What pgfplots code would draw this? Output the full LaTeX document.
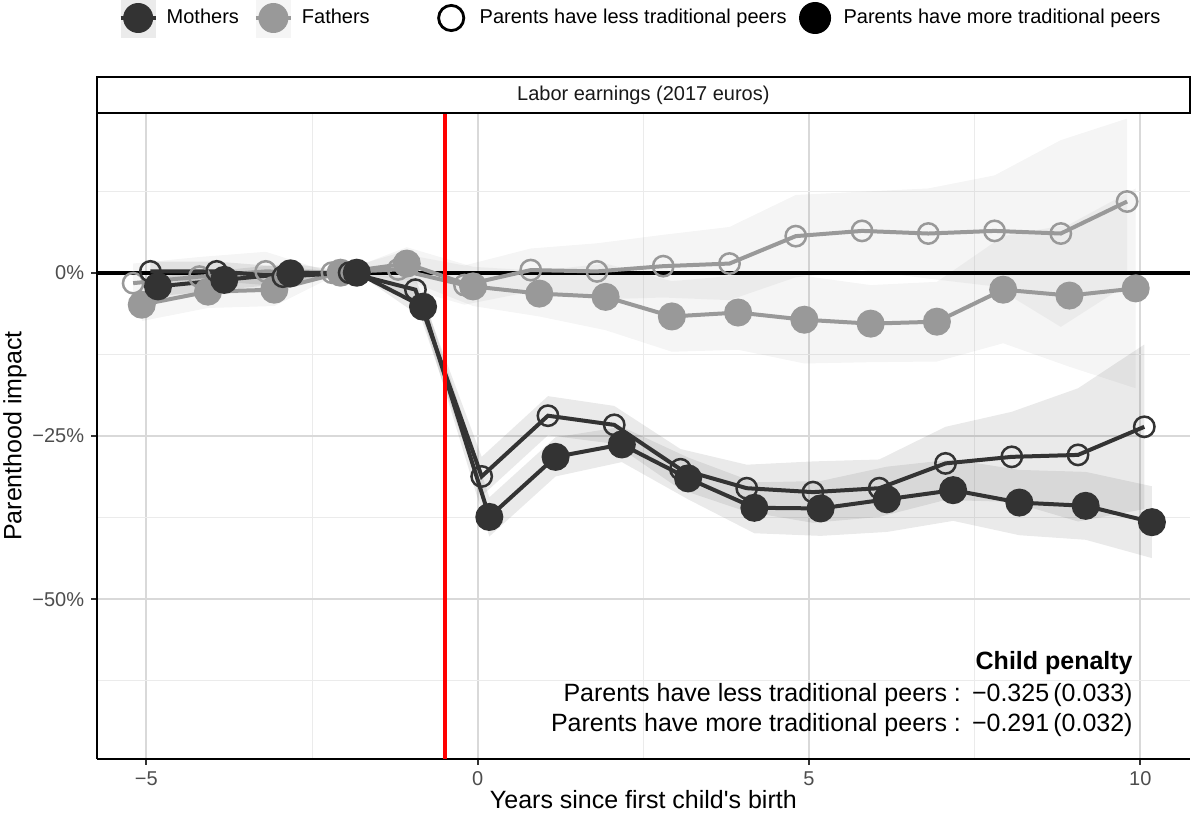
\documentclass[border=0pt]{standalone}
\usepackage{fontspec}
\setmainfont{Liberation Sans}
\usepackage{pgfplots}
\pgfplotsset{compat=1.18}
\usepgfplotslibrary{fillbetween}
\usepackage{pgfplotstable}

\definecolor{mcol}{HTML}{333333}
\definecolor{fcol}{HTML}{999999}
\definecolor{tickcol}{HTML}{4D4D4D}
\definecolor{gridmaj}{HTML}{D9D9D9}
\definecolor{gridmin}{HTML}{EBEBEB}

% Mothers, less traditional peers (open)
\pgfplotstableread{
t y hw
-5 0.2 1.5
-4 0.2 1.5
-3 -0.6 1.5
-2 0 0
-1 -2.6 1.8
0 -31.2 3.0
1 -21.9 3.0
2 -23.3 2.9
3 -30.1 3.1
4 -33.0 3.6
5 -33.6 4.7
6 -33.0 4.4
7 -29.2 5.6
8 -28.2 6.9
9 -27.9 10.2
10 -23.6 12.6
}\mo
% Mothers, more traditional peers (filled)
\pgfplotstableread{
t y hw
-5 -2.1 1.5
-4 -1.1 1.5
-3 -0.1 1.5
-2 0 0
-1 -5.2 1.8
0 -37.4 3.0
1 -28.2 3.0
2 -26.3 2.7
3 -31.5 3.2
4 -36.0 3.9
5 -36.1 4.2
6 -34.7 5.0
7 -33.3 4.7
8 -35.2 5.0
9 -35.7 5.2
10 -38.2 5.5
}\mf
% Fathers, less traditional peers (open)
\pgfplotstableread{
t y hw
-5 -1.6 3.0
-4 -0.6 3.0
-3 0.2 3.0
-2 0 0
-1 0.5 2.5
0 -1.9 3.0
1 0.4 3.3
2 0.2 4.3
3 1.0 4.8
4 1.4 5.6
5 5.6 6.3
6 6.4 6.0
7 6.0 6.9
8 6.4 8.5
9 6.0 14.3
10 10.9 12.7
}\fo
% Fathers, more traditional peers (filled)
\pgfplotstableread{
t y hw
-5 -4.9 2.5
-4 -2.9 2.5
-3 -2.6 2.5
-2 0 0
-1 1.4 2.5
0 -2.1 3.0
1 -3.2 3.5
2 -3.7 5.1
3 -6.7 5.4
4 -6.1 5.7
5 -7.2 6.7
6 -7.8 5.9
7 -7.5 6.1
8 -2.6 8.2
9 -3.5 10.9
10 -2.4 15.3
}\ff

\begin{document}
\begin{tikzpicture}
\begin{axis}[
  at={(48.35pt,30.4pt)}, anchor=south west,
  scale only axis, width=546.65pt, height=323.25pt,
  xmin=-5.75, xmax=10.75, ymin=-74.5, ymax=24.5,
  axis x line*=bottom, axis y line*=left,
  axis line style={line width=1pt, black},
  xtick={-5,0,5,10}, xticklabels={−5,0,5,10},
  ytick={-50,-25,0}, yticklabels={−50\%,−25\%,0\%},
  minor xtick={-2.5,2.5,7.5}, minor ytick={-62.5,-37.5,-12.5,12.5},
  grid=both,
  major grid style={gridmaj, line width=1pt},
  minor grid style={gridmin, line width=0.5pt},
  tick align=outside, major tick length=2.75pt, minor tick length=0pt,
  tick style={line width=1pt, black!80},
  ticklabel style={font=\fontsize{10}{12}\selectfont, text=tickcol},
  every axis x label/.style={at={(axis description cs:0.5,-0.0631)}, anchor=center, font=\fontsize{12.5}{15}\selectfont},
  every axis y label/.style={at={(axis description cs:-0.0747,0.5)}, anchor=center, rotate=90, font=\fontsize{12.5}{15}\selectfont},
  xlabel={Years since first child\textquotesingle s birth},
  ylabel={Parenthood impact},
  legend columns=4, legend cell align=left,
  legend style={at={(0.4965,1.1465)}, anchor=center, draw=none, fill=none,
    inner sep=0pt, outer sep=0pt, column sep=0pt,
    font=\fontsize{10}{12}\selectfont, nodes={inner sep=0pt}},
]
% confidence bands
\addplot[name path=foU, draw=none, forget plot] table[x expr=\thisrow{t}-0.2, y expr=\thisrow{y}+\thisrow{hw}] {\fo};
\addplot[name path=foL, draw=none, forget plot] table[x expr=\thisrow{t}-0.2, y expr=\thisrow{y}-\thisrow{hw}] {\fo};
\addplot[fill=fcol, fill opacity=0.1, draw=none, forget plot] fill between[of=foU and foL];
\addplot[name path=ffU, draw=none, forget plot] table[x expr=\thisrow{t}-0.07, y expr=\thisrow{y}+\thisrow{hw}] {\ff};
\addplot[name path=ffL, draw=none, forget plot] table[x expr=\thisrow{t}-0.07, y expr=\thisrow{y}-\thisrow{hw}] {\ff};
\addplot[fill=fcol, fill opacity=0.1, draw=none, forget plot] fill between[of=ffU and ffL];
\addplot[name path=moU, draw=none, forget plot] table[x expr=\thisrow{t}+0.06, y expr=\thisrow{y}+\thisrow{hw}] {\mo};
\addplot[name path=moL, draw=none, forget plot] table[x expr=\thisrow{t}+0.06, y expr=\thisrow{y}-\thisrow{hw}] {\mo};
\addplot[fill=mcol, fill opacity=0.1, draw=none, forget plot] fill between[of=moU and moL];
\addplot[name path=mfU, draw=none, forget plot] table[x expr=\thisrow{t}+0.175, y expr=\thisrow{y}+\thisrow{hw}] {\mf};
\addplot[name path=mfL, draw=none, forget plot] table[x expr=\thisrow{t}+0.175, y expr=\thisrow{y}-\thisrow{hw}] {\mf};
\addplot[fill=mcol, fill opacity=0.1, draw=none, forget plot] fill between[of=mfU and mfL];
% reference lines
\addplot[black, line width=1.8pt, forget plot] coordinates {(-5.75,0) (10.75,0)};
% series
\addplot[fcol, line width=2pt, mark=o, mark size=5.1pt, mark options={line width=1.25pt}, forget plot] table[x expr=\thisrow{t}-0.2, y=y] {\fo};
\addplot[fcol, line width=2pt, mark=*, mark size=6pt, mark options={draw=none, fill=fcol}, forget plot] table[x expr=\thisrow{t}-0.07, y=y] {\ff};
\addplot[mcol, line width=2pt, mark=o, mark size=5.1pt, mark options={line width=1.25pt}, forget plot] table[x expr=\thisrow{t}+0.06, y=y] {\mo};
\addplot[mcol, line width=2pt, mark=*, mark size=6pt, mark options={draw=none, fill=mcol}, forget plot] table[x expr=\thisrow{t}+0.175, y=y] {\mf};
\addplot[red, line width=2pt, forget plot] coordinates {(-0.5,-74.5) (-0.5,24.5)};
% annotation
\node[anchor=east, inner sep=0pt, font=\fontsize{12.5}{15}\selectfont\bfseries] at (axis cs:9.89,-59.8) {Child penalty};
\node[anchor=east, inner sep=0pt, font=\fontsize{12.5}{15}\selectfont] at (axis cs:9.89,-64.7) {Parents have less traditional peers\;:\;\,−0.325\,(0.033)};
\node[anchor=east, inner sep=0pt, font=\fontsize{12.5}{15}\selectfont] at (axis cs:9.89,-69.3) {Parents have more traditional peers\;:\;\,−0.291\,(0.032)};
% legend
\addlegendimage{legend image code/.code={
  \path[draw=none,fill=none] (0pt,-10pt) rectangle (23pt,10pt);
  \fill[black!8,draw=none] (0pt,-10pt) rectangle (17.5pt,10pt);
  \draw[mcol,line width=2pt] (0pt,0pt) -- (17.5pt,0pt);
  \fill[mcol,draw=none] (8.75pt,0pt) circle (7.5pt);}}
\addlegendentry{Mothers\rule{7.5pt}{0pt}}
\addlegendimage{legend image code/.code={
  \path[draw=none,fill=none] (0pt,-10pt) rectangle (23pt,10pt);
  \fill[black!4,draw=none] (0pt,-10pt) rectangle (17.5pt,10pt);
  \draw[fcol,line width=2pt] (0pt,0pt) -- (17.5pt,0pt);
  \fill[fcol,draw=none] (8.75pt,0pt) circle (7.5pt);}}
\addlegendentry{Fathers\rule{32pt}{0pt}}
\addlegendimage{legend image code/.code={
  \path[draw=none,fill=none] (0pt,-10pt) rectangle (23pt,10pt);
  \draw[black,fill=none,line width=1.4pt] (8.75pt,0pt) circle (6.3pt);}}
\addlegendentry{Parents have less traditional peers\rule{5.5pt}{0pt}}
\addlegendimage{legend image code/.code={
  \path[draw=none,fill=none] (0pt,-10pt) rectangle (23pt,10pt);
  \fill[black,draw=none] (8.75pt,0pt) circle (8pt);}}
\addlegendentry{Parents have more traditional peers}
\end{axis}
% facet strip
\draw[line width=1pt, fill=white] (current axis.north west) rectangle ([yshift=17.8pt]current axis.north east);
\node[font=\fontsize{10}{12}\selectfont, text=black!90] at ([yshift=8.9pt]current axis.north) {Labor earnings (2017 euros)};
\pgfresetboundingbox
\useasboundingbox (0,0) rectangle (596pt,410pt);
\end{tikzpicture}
\end{document}
